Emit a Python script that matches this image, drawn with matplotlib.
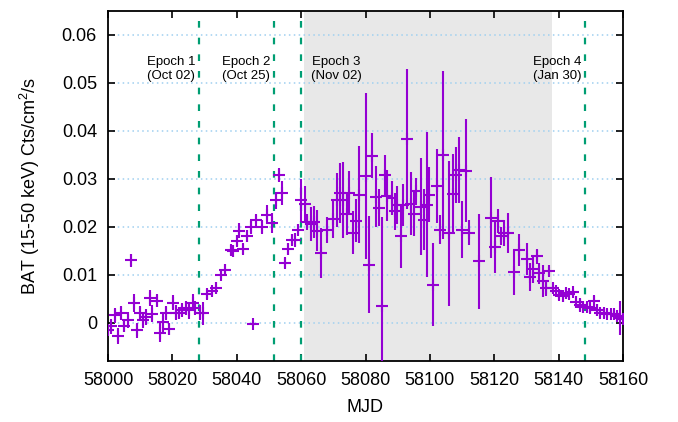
import numpy as np
import matplotlib
matplotlib.use("Agg")
import matplotlib.pyplot as plt

plt.rcParams['font.family'] = ['Liberation Sans', 'DejaVu Sans']
plt.rcParams['mathtext.fontset'] = 'custom'
plt.rcParams['mathtext.rm'] = 'Liberation Sans'

# BAT light curve (MJD, rate, 1-sigma error)
mjd = [58000.0, 58000.8, 58002.2, 58003.2, 58003.9, 58005.0, 58006.1, 58007.1,
       58008.2, 58009.1, 58009.9, 58011.0, 58011.7, 58013.0, 58013.8, 58015.1,
       58016.2, 58017.2, 58018.0, 58018.9, 58020.1, 58021.1, 58022.1, 58022.9,
       58024.2, 58025.1, 58026.3, 58027.0, 58028.6, 58029.6, 58030.9, 58032.2,
       58033.6, 58035.0, 58036.3, 58038.2, 58038.9, 58040.0, 58040.8, 58041.8,
       58043.1, 58044.3, 58045.0, 58046.0, 58047.7, 58049.3, 58050.8, 58052.2,
       58053.2, 58054.0, 58055.0, 58056.0, 58057.1, 58058.1, 58059.1, 58060.0,
       58061.2, 58061.7, 58063.0, 58064.0, 58065.0, 58066.1, 58068.1, 58070.0,
       58071.0, 58072.1, 58072.9, 58074.1, 58075.0, 58076.0, 58077.0, 58078.1,
       58080.1, 58081.2, 58081.9, 58083.3, 58084.3, 58085.0, 58086.0, 58086.8,
       58088.1, 58089.1, 58089.7, 58090.9, 58091.7, 58093.0, 58094.0, 58095.1,
       58095.7, 58097.1, 58098.2, 58099.0, 58099.8, 58100.9, 58102.1, 58103.1,
       58104.0, 58106.0, 58107.2, 58108.1, 58108.9, 58110.0, 58111.1, 58112.1,
       58115.2, 58118.9, 58120.2, 58121.1, 58122.0, 58123.0, 58124.2, 58126.1,
       58127.8, 58130.3, 58131.1, 58131.9, 58133.2, 58134.0, 58135.0, 58136.1,
       58137.1, 58138.1, 58139.2, 58140.2, 58141.3, 58142.3, 58143.3, 58144.4,
       58145.4, 58146.6, 58147.7, 58148.9, 58149.9, 58151.0, 58152.0, 58153.0,
       58154.1, 58155.1, 58156.2, 58157.2, 58158.2, 58159.1, 58160.0]
rate = [-0.0016, -0.0008, 0.0015, -0.0028, 0.0020, -0.0008, 0.0005, 0.0130,
        0.0041, -0.0016, 0.0020, 0.0006, 0.0012, 0.0051, 0.0019, 0.0046,
        -0.0021, 0.0001, 0.0020, -0.0013, 0.0042, 0.0021, 0.0020, 0.0026,
        0.0031, 0.0026, 0.0042, 0.0031, 0.0021, 0.0020, 0.0060, 0.0065,
        0.0072, 0.0100, 0.0110, 0.0151, 0.0149, 0.0171, 0.0192, 0.0153,
        0.0181, 0.0200, -0.0002, 0.0215, 0.0200, 0.0225, 0.0208, 0.0255,
        0.0308, 0.0270, 0.0124, 0.0154, 0.0173, 0.0173, 0.0194, 0.0255,
        0.0248, 0.0210, 0.0206, 0.0210, 0.0192, 0.0146, 0.0194, 0.0217,
        0.0256, 0.0270, 0.0256, 0.0226, 0.0271, 0.0188, 0.0213, 0.0267,
        0.0306, 0.0121, 0.0348, 0.0263, 0.0240, 0.0035, 0.0308, 0.0265,
        0.0260, 0.0232, 0.0246, 0.0180, 0.0246, 0.0383, 0.0248, 0.0227,
        0.0275, 0.0242, 0.0215, 0.0246, 0.0267, 0.0079, 0.0285, 0.0194,
        0.0350, 0.0186, 0.0269, 0.0308, 0.0319, 0.0194, 0.0317, 0.0188,
        0.0128, 0.0219, 0.0157, 0.0211, 0.0180, 0.0187, 0.0187, 0.0105,
        0.0152, 0.0133, 0.0095, 0.0112, 0.0138, 0.0103, 0.0087, 0.0072,
        0.0107, 0.0072, 0.0067, 0.0058, 0.0056, 0.0062, 0.0060, 0.0063,
        0.0044, 0.0037, 0.0033, 0.0033, 0.0030, 0.0046, 0.0026, 0.0020,
        0.0020, 0.0019, 0.0019, 0.0017, 0.0013, 0.0010, 0.0008]
err = [0.0010, 0.0015, 0.0015, 0.0016, 0.0015, 0.0012, 0.0017, 0.0014,
       0.0018, 0.0015, 0.0015, 0.0017, 0.0017, 0.0017, 0.0018, 0.0013,
       0.0020, 0.0020, 0.0015, 0.0013, 0.0015, 0.0015, 0.0012, 0.0015,
       0.0015, 0.0018, 0.0018, 0.0015, 0.0016, 0.0024, 0.0010, 0.0010,
       0.0012, 0.0010, 0.0012, 0.0010, 0.0012, 0.0012, 0.0015, 0.0010,
       0.0012, 0.0015, 0.0005, 0.0010, 0.0015, 0.0020, 0.0020, 0.0018,
       0.0015, 0.0025, 0.0010, 0.0012, 0.0012, 0.0015, 0.0012, 0.0045,
       0.0038, 0.0017, 0.0035, 0.0033, 0.0042, 0.0052, 0.0027, 0.0040,
       0.0056, 0.0062, 0.0079, 0.0043, 0.0046, 0.0045, 0.0045, 0.0101,
       0.0174, 0.0101, 0.0047, 0.0063, 0.0039, 0.0185, 0.0042, 0.0054,
       0.0035, 0.0039, 0.0040, 0.0065, 0.0044, 0.0146, 0.0066, 0.0047,
       0.0027, 0.0101, 0.0063, 0.0151, 0.0058, 0.0087, 0.0078, 0.0030,
       0.0175, 0.0152, 0.0083, 0.0058, 0.0069, 0.0059, 0.0108, 0.0027,
       0.0099, 0.0085, 0.0054, 0.0025, 0.0019, 0.0028, 0.0042, 0.0047,
       0.0033, 0.0033, 0.0029, 0.0029, 0.0016, 0.0022, 0.0034, 0.0016,
       0.0009, 0.0010, 0.0008, 0.0010, 0.0012, 0.0010, 0.0010, 0.0008,
       0.0012, 0.0015, 0.0012, 0.0010, 0.0010, 0.0010, 0.0012, 0.0010,
       0.0010, 0.0010, 0.0008, 0.0008, 0.0008, 0.0035, 0.0010]

# epochs
epoch_mjd = [58028.2, 58051.6, 58059.9, 58148.3]
epoch_txt = ["Epoch 1\n(Oct 02)", "Epoch 2\n(Oct 25)", "Epoch 3\n(Nov 02)", "Epoch 4\n(Jan 30)"]
epoch_txt_x = [58019.6, 58042.9, 58070.8, 58139.7]
shade = (58061.0, 58138.0)

fig = plt.figure(figsize=(6.78, 4.22), dpi=100)
ax = fig.add_axes([108/678, 1-361/422, 515/678, 350/422])

ax.axvspan(shade[0], shade[1], color='#e8e8e8', lw=0, zorder=0)
for v in [0.0, 0.01, 0.02, 0.03, 0.04, 0.05, 0.06]:
    ax.axhline(v, color='#9fd0f0', lw=1.1, ls=(0, (1, 2.2)), zorder=1)
for e in epoch_mjd:
    ax.axvline(e, color='#009e73', lw=1.6, ls=(0, (3, 4.5)), zorder=2)

ax.errorbar(mjd, rate, yerr=err, fmt='+', color='#9400d3', ms=9, mew=1.5,
            elinewidth=1.5, capsize=0, zorder=3)

for t, x in zip(epoch_txt, epoch_txt_x):
    ax.text(x, 0.0529, t, ha='center', va='center', fontsize=9.5,
            linespacing=1.2, zorder=4)

ax.set_xlim(58000, 58160)
ax.set_ylim(-0.008, 0.065)
ax.set_xticks(np.arange(58000, 58161, 20))
ax.set_yticks([0, 0.01, 0.02, 0.03, 0.04, 0.05, 0.06])
ax.set_yticklabels(['0', '0.01', '0.02', '0.03', '0.04', '0.05', '0.06'])
ax.tick_params(direction='in', length=5, width=1.2, labelsize=13,
               top=True, right=True, pad=8)
for s in ax.spines.values():
    s.set_linewidth(1.3)

ax.set_xlabel("MJD", fontsize=13, labelpad=7)
ax.set_ylabel("BAT (15-50 keV) Cts/cm$^2$/s", fontsize=13, labelpad=14)

fig.savefig("out.png", dpi=100)
